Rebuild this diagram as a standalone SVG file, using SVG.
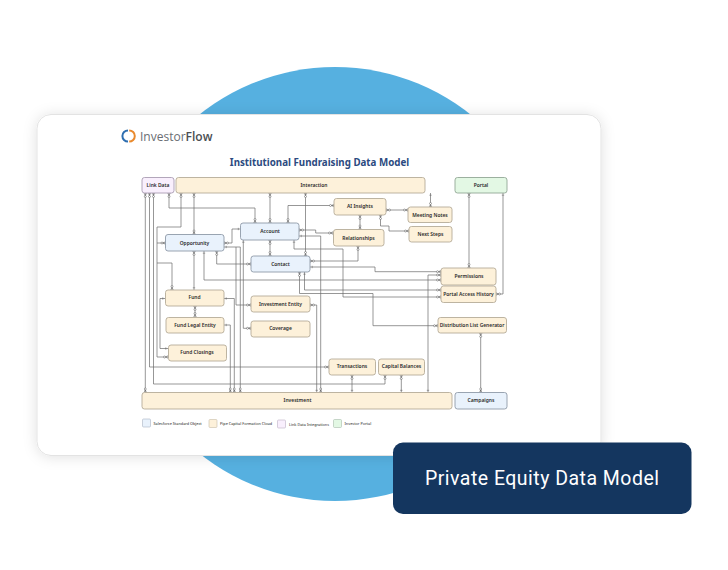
<svg xmlns="http://www.w3.org/2000/svg" width="728" height="570" viewBox="0 0 728 570">
<style>
text{font-family:"Noto Sans","Open Sans",sans-serif}
.n rect{stroke-width:.9;rx:2.5px}
.n text{font-size:4.95px;font-weight:600;fill:#2a2a2a;text-anchor:middle}
.o rect{fill:#fdf1da;stroke:#b5ab98}
.b rect{fill:#e9f2fc;stroke:#8f9aa8}
.p rect{fill:#f9effd;stroke:#a99cb2}
.g rect{fill:#e3f8e4;stroke:#92a795}
#edges path{fill:none;stroke:#6a6a6a;stroke-width:.7}
.cc{marker-start:url(#c);marker-end:url(#c)}
.ct{marker-start:url(#c);marker-end:url(#t)}
.tc{marker-start:url(#t);marker-end:url(#c)}
.tt{marker-start:url(#t);marker-end:url(#t)}
.ec{marker-end:url(#c)}
.m path{fill:none;stroke:#555;stroke-width:.5}
.m circle{fill:#fff;stroke:#555;stroke-width:.5}
.leg rect{stroke-width:.6}
.leg text{font-size:3.75px;fill:#444;font-weight:500}
</style>
<defs>
<filter id="sh" x="-10%" y="-15%" width="120%" height="130%"><feDropShadow dx="0" dy="1" stdDeviation="7" flood-color="#000" flood-opacity=".12"/></filter>
<marker id="c" class="m" markerUnits="userSpaceOnUse" markerWidth="10" markerHeight="6" refX="6" refY="3" orient="auto-start-reverse" overflow="visible"><path d="M3.4 3 6 1.7M3.4 3 6 4.3"/><circle cx="2.5" cy="3" r="1"/></marker>
<marker id="t" class="m" markerUnits="userSpaceOnUse" markerWidth="10" markerHeight="6" refX="6" refY="3" orient="auto-start-reverse" overflow="visible"><path d="M3.8 1.8V4.2"/></marker>
</defs>
<rect width="728" height="570" fill="#fff"/>
<circle cx="335" cy="284" r="217" fill="#56b0e0"/>
<rect x="37" y="114.500" width="564" height="341" rx="14" fill="#fff" stroke="#e3e3e3" filter="url(#sh)"/>
<g id="logo">
<path d="M128 130.400A5.600 5.600 0 0 0 128 141.600" fill="none" stroke="#2f6fb0" stroke-width="2"/>
<path d="M129.200 130.400A5.600 5.600 0 0 1 129.200 141.600" fill="none" stroke="#e98a2e" stroke-width="2"/>
<text x="140" y="140.700" font-size="12" fill="#6a6e73" style="font-family:'Open Sans',sans-serif">Investor<tspan font-weight="600" fill="#4a4e52">Flow</tspan></text>
</g>
<text x="319.500" y="165.500" font-size="9.750" font-weight="700" fill="#2b4a80" text-anchor="middle">Institutional Fundraising Data Model</text>
<g id="edges">
<path class="cc" d="M145.300 193V392.500"/>
<path class="cc" d="M149.500 193V367H329"/>
<path class="cc" d="M153.500 193V384H385V375"/>
<path class="cc" d="M169 193V208H255V223"/>
<path class="cc" d="M181 193V227H157V357H168"/>
<path class="ec" d="M157 243H165.500"/>
<path class="ec" d="M157 263H172V290"/>
<path class="cc" d="M194 193V234.500"/>
<path class="cc" d="M270 193V223"/>
<path class="cc" d="M305.500 193V256"/>
<path class="ct" d="M224 243H232V229H240.500"/>
<path class="ct" d="M194 251V290"/>
<path class="cc" d="M216.700 251V264H251"/>
<path class="tc" d="M204 251V280H441"/>
<path class="cc" d="M270 240V256"/>
<path class="tc" d="M294 240V249H343V297H441"/>
<path class="cc" d="M299.500 272V293.500H373V325.700H438"/>
<path class="tc" d="M304.500 272V290H441"/>
<path class="cc" d="M310 261H358V246"/>
<path class="tc" d="M310 267H375V271.700H441"/>
<path class="cc" d="M299 230H315.700V233H333"/>
<path class="tc" d="M299 236H320.700V392.500"/>
<path class="cc" d="M334 205.500H288V223"/>
<path class="cc" d="M360 215V229.500"/>
<path class="cc" d="M386 210H408"/>
<path class="cc" d="M380.500 215V226H389V231H409"/>
<path class="tc" d="M430.500 193V207"/>
<path class="cc" d="M469 193V268"/>
<path class="tc" d="M503 193V294H496"/>
<path class="ct" d="M441 275H428V392.500"/>
<path class="tc" d="M224 298.500H234.300V392.500"/>
<path class="tc" d="M224 325H230.300V392.500"/>
<path class="tc" d="M224 247H240.300V392.500"/>
<path class="ec" d="M236 247V305H251"/>
<path class="tc" d="M243.300 240V328.300H251"/>
<path class="ct" d="M310 305H316.700V392.500"/>
<path class="ct" d="M352 375V392.500"/>
<path class="ct" d="M401.300 375V392.500"/>
<path class="cc" d="M480.700 333V392.500"/>
<path class="tt" d="M165 298.500H160V348.500H168"/>
<path class="cc" d="M195 306V317"/>
</g>
<g id="link-data" class="n p"><rect x="142" y="177.500" width="32" height="15.500"/><text x="158" y="186.500">Link Data</text></g>
<g id="interaction" class="n o"><rect x="176" y="177.500" width="249" height="15.500"/><text x="314" y="186.500">Interaction</text></g>
<g id="portal" class="n g"><rect x="455" y="177.500" width="52" height="15.500"/><text x="481" y="186.500">Portal</text></g>
<g id="opportunity" class="n b"><rect x="165.500" y="234.500" width="58.500" height="16.500"/><text x="194.500" y="244.500">Opportunity</text></g>
<g id="account" class="n b"><rect x="240.500" y="223" width="58.500" height="17"/><text x="270" y="233">Account</text></g>
<g id="contact" class="n b"><rect x="251" y="256" width="59" height="16"/><text x="280.500" y="265.500">Contact</text></g>
<g id="ai-insights" class="n o"><rect x="334" y="198.500" width="52" height="16.500"/><text x="360" y="208">AI Insights</text></g>
<g id="meeting-notes" class="n o"><rect x="408" y="207" width="44" height="15.500"/><text x="430" y="216.500">Meeting Notes</text></g>
<g id="next-steps" class="n o"><rect x="409" y="226.500" width="43" height="15.500"/><text x="430.500" y="235.500">Next Steps</text></g>
<g id="relationships" class="n o"><rect x="333.500" y="229.500" width="50.500" height="16.500"/><text x="358.500" y="239.500">Relationships</text></g>
<g id="permissions" class="n o"><rect x="441" y="268" width="55" height="17"/><text x="469" y="277.500">Permissions</text></g>
<g id="portal-access-history" class="n o"><rect x="441" y="286" width="55" height="16.500"/><text x="468.500" y="295.500">Portal Access History</text></g>
<g id="distribution-list-generator" class="n o"><rect x="438" y="317.500" width="68.500" height="15.500"/><text x="472" y="326.500">Distribution List Generator</text></g>
<g id="fund" class="n o"><rect x="165.500" y="290" width="58.500" height="16"/><text x="194.500" y="299">Fund</text></g>
<g id="investment-entity" class="n o"><rect x="251" y="296" width="59" height="16"/><text x="280.500" y="305.500">Investment Entity</text></g>
<g id="coverage" class="n o"><rect x="251" y="321" width="59" height="16"/><text x="280.500" y="330">Coverage</text></g>
<g id="fund-legal-entity" class="n o"><rect x="166" y="317.500" width="58" height="15.500"/><text x="195" y="326.500">Fund Legal Entity</text></g>
<g id="fund-closings" class="n o"><rect x="168.500" y="345" width="58" height="16"/><text x="197" y="354">Fund Closings</text></g>
<g id="transactions" class="n o"><rect x="329" y="359" width="46.500" height="16"/><text x="352" y="368">Transactions</text></g>
<g id="capital-balances" class="n o"><rect x="378.500" y="359" width="46" height="16"/><text x="401.500" y="368">Capital Balances</text></g>
<g id="investment" class="n o"><rect x="142" y="392.500" width="310" height="16.500"/><text x="297.500" y="402">Investment</text></g>
<g id="campaigns" class="n b"><rect x="455" y="392.500" width="52" height="16.500"/><text x="481" y="402">Campaigns</text></g>
<g class="leg">
<rect x="142.500" y="419" width="8" height="8" rx="1" fill="#e9f2fc" stroke="#a9b4c2"/><text x="153.500" y="424.500">Salesforce Standard Object</text>
<rect x="209" y="419.500" width="8" height="8" rx="1" fill="#fdf1da" stroke="#c8bda8"/><text x="220" y="425">Pipe Capital Formation Cloud</text>
<rect x="277.500" y="420" width="8" height="8" rx="1" fill="#f9effd" stroke="#bcb0c4"/><text x="289" y="425.500">Link Data Integrations</text>
<rect x="333.500" y="419.500" width="8" height="8" rx="1" fill="#e3f8e4" stroke="#a8bcab"/><text x="344.500" y="425">Investor Portal</text>
</g>
<g id="banner"><rect x="393" y="442.500" width="298.500" height="71.500" rx="10" fill="#14365f"/>
<text x="542.200" y="485" font-size="19.500" fill="#fff" text-anchor="middle" letter-spacing=".48" style="font-family:Roboto,sans-serif">Private Equity Data Model</text></g>
</svg>
